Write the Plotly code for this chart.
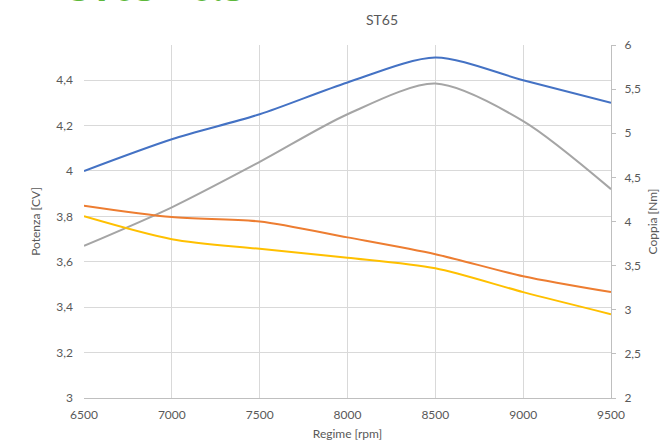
import plotly.graph_objects as go

rpm = [6500, 7000, 7500, 8000, 8500, 9000, 9500]
potenza_a = [4.00, 4.14, 4.25, 4.39, 4.50, 4.40, 4.30]
potenza_b = [3.67, 3.84, 4.04, 4.25, 4.385, 4.22, 3.92]
coppia_a = [4.18, 4.05, 4.00, 3.82, 3.63, 3.38, 3.20]
coppia_b = [4.06, 3.80, 3.69, 3.59, 3.47, 3.20, 2.95]

x_ticks = [6500, 7000, 7500, 8000, 8500, 9000, 9500]
left_ticks = [3, 3.2, 3.4, 3.6, 3.8, 4, 4.2, 4.4]
right_ticks = [2, 2.5, 3, 3.5, 4, 4.5, 5, 5.5, 6]

FONT = "Lato"
TXT = "#595959"
GRID = "#d9d9d9"
AX = "#bfbfbf"

fig = go.Figure()
fig.add_trace(go.Scatter(x=rpm, y=potenza_a, mode="lines", name="Potenza 1",
                         line=dict(color="#4472C4", width=2, shape="spline", smoothing=0.8)))
fig.add_trace(go.Scatter(x=rpm, y=coppia_a, mode="lines", name="Coppia 1", yaxis="y2",
                         line=dict(color="#ED7D31", width=2, shape="spline", smoothing=0.8)))
fig.add_trace(go.Scatter(x=rpm, y=potenza_b, mode="lines", name="Potenza 2",
                         line=dict(color="#A5A5A5", width=2, shape="spline", smoothing=0.8)))
fig.add_trace(go.Scatter(x=rpm, y=coppia_b, mode="lines", name="Coppia 2", yaxis="y2",
                         line=dict(color="#FFC000", width=2, shape="spline", smoothing=0.8)))

fig.update_layout(
    width=671, height=446,
    margin=dict(l=84, r=60, t=45, b=48, autoexpand=False),
    paper_bgcolor="white", plot_bgcolor="white",
    showlegend=False,
    separators=",.",
    font=dict(family=FONT, size=12, color=TXT),
    xaxis=dict(range=[6500, 9500], tickvals=x_ticks, showgrid=True, gridcolor=GRID, gridwidth=1,
               showline=True, linecolor=AX, linewidth=1, ticks="", zeroline=False,
               ticklabelstandoff=6, automargin=False,
               title=dict(text="Regime [rpm]", font=dict(size=12, color=TXT), standoff=8)),
    yaxis=dict(range=[3, 4.555], tickvals=left_ticks, showgrid=True, gridcolor=GRID, gridwidth=1,
               showline=False, ticks="", zeroline=False, ticklabelstandoff=10, automargin=False,
               title=dict(text="Potenza [CV]", font=dict(size=12, color=TXT), standoff=13)),
    yaxis2=dict(range=[2, 6], tickvals=right_ticks, overlaying="y", side="right", showgrid=False,
                showline=True, linecolor=AX, linewidth=1, ticks="outside", ticklen=4, tickcolor=AX,
                zeroline=False, ticklabelstandoff=6, automargin=False,
                title=dict(text="Coppia [Nm]", font=dict(size=12, color=TXT), standoff=8)),
    annotations=[
        dict(text="ST65", xref="paper", yref="paper", x=(382 - 84) / 527, y=(398 - 19) / 353,
             xanchor="center", yanchor="middle", showarrow=False,
             font=dict(family=FONT, size=14, color=TXT)),
        dict(text="<b>ST65 - 6.5</b>", xref="paper", yref="paper", x=(67 - 84) / 527,
             y=(398 - 14) / 353, xanchor="left", yanchor="bottom", showarrow=False,
             font=dict(family="Open Sans", size=39, color="#5DB83A")),
    ],
)

fig.write_html("out.html", config={"displayModeBar": False},
               post_script="document.body.style.margin='0';")
